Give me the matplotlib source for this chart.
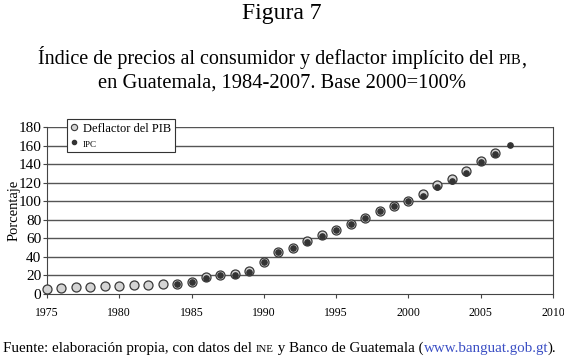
import numpy as np
import matplotlib
matplotlib.use("Agg")
import matplotlib.pyplot as plt
from matplotlib.lines import Line2D

# ── data ──
years_defl = list(range(1975, 2007))
deflactor = [5.4, 6.1, 7.2, 7.2, 8.3, 9.0, 10.1, 10.1, 11.2, 11.2, 13.4, 18.8,
             20.6, 22.0, 24.9, 34.7, 45.8, 49.8, 56.7, 63.9, 69.3, 75.5, 82.3,
             89.2, 94.6, 100.7, 108.0, 117.0, 124.2, 132.9, 143.3, 152.0]
years_ipc = list(range(1984, 2008))
ipc = [11.2, 13.4, 17.5, 20.3, 21.0, 24.0, 34.0, 45.5, 49.5, 56.5, 62.5, 69.0,
       75.5, 82.0, 89.0, 94.5, 100.0, 105.8, 115.0, 121.7, 130.3, 141.9, 151.3, 161.0]
yticks = list(range(0, 181, 20))
xticks = list(range(1975, 2011, 5))

SERIF = "Liberation Serif"
plt.rcParams["font.family"] = [SERIF, "DejaVu Serif"]

fig = plt.figure(figsize=(5.64, 3.60), dpi=100)
ax = fig.add_axes([0.0833, 0.1833, 0.8972, 0.4639])

ax.plot(years_defl, deflactor, ls="none", marker="o", ms=6.5,
        mfc="#d4d4d4", mec="#3a3a3a", mew=0.9, zorder=3, clip_on=False)
ax.plot(years_ipc, ipc, ls="none", marker="o", ms=3.8,
        mfc="#333333", mec="#333333", zorder=4, clip_on=False)

ax.set_xlim(1975, 2010)
ax.set_ylim(0, 180)
ax.set_xticks(xticks)
ax.set_yticks(yticks)
ax.tick_params(axis="x", labelsize=8.5, length=3, pad=6, color="#444444")
ax.tick_params(axis="y", labelsize=11, length=3, pad=1, color="#444444")
for y in yticks[1:]:
    ax.axhline(y, color="#555555", lw=1.0, zorder=1)
for s in ["left", "bottom", "right"]:
    ax.spines[s].set_color("#444444")
ax.spines["top"].set_visible(False)
ax.set_ylabel("Porcentaje", fontsize=10.5)
ax.yaxis.set_label_coords(-0.053, 0.5)

handles = [
    Line2D([], [], ls="none", marker="o", ms=4.5, mfc="#d4d4d4", mec="#3a3a3a", mew=0.8),
    Line2D([], [], ls="none", marker="o", ms=3, mfc="#333333", mec="#333333"),
]
leg = ax.legend(handles, ["Deflactor del PIB", "IPC"], loc="upper left",
                bbox_to_anchor=(0.039, 1.048), borderaxespad=0, fontsize=9,
                frameon=True, fancybox=False, edgecolor="#333333", framealpha=1,
                handlelength=0.6, handletextpad=0.4, borderpad=0.3,
                labelspacing=0.25)
leg.get_frame().set_linewidth(0.8)
leg.get_texts()[1].set_fontsize(6.5)
leg.set_zorder(10)


def draw_runs(runs, x, y, ha="center"):
    """Draw text pieces of different sizes/colours on one baseline."""
    fig.canvas.draw()
    r = fig.canvas.get_renderer()
    pieces = []
    total = 0.0
    for txt, size, col in runs:
        t = fig.text(0, y, txt, fontsize=size, color=col, va="baseline")
        w = t.get_window_extent(r).width / fig.bbox.width
        pieces.append((t, w))
        total += w
    cur = x - total / 2 if ha == "center" else x
    for t, w in pieces:
        t.set_x(cur)
        cur += w


fig.text(0.5, 0.948, "Figura 7", fontsize=17, ha="center", va="baseline")
draw_runs([("Índice de precios al consumidor y deflactor implícito del ", 14.5, "k"),
           ("PIB", 10.5, "k"), (",", 14.5, "k")], 0.5, 0.822)
fig.text(0.5, 0.757, "en Guatemala, 1984-2007. Base 2000=100%", fontsize=14.8,
         ha="center", va="baseline")
draw_runs([("Fuente: elaboración propia, con datos del ", 10.8, "k"),
           ("INE", 7.8, "k"), (" y Banco de Guatemala (", 10.8, "k"),
           ("www.banguat.gob.gt", 10.8, "#3b4fc4"), (").", 10.8, "k")],
          0.006, 0.022, ha="left")

fig.savefig("out.png", dpi=100)
